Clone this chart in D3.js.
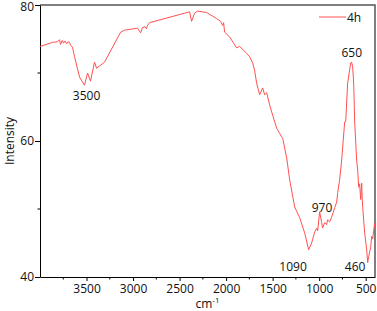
<!DOCTYPE html>
<html>
<head>
<meta charset="utf-8">
<script src="https://cdn.jsdelivr.net/npm/d3@7"></script>
<style>
    body { margin: 0; background: #fff; }
    text { font-family: "Open Sans", sans-serif; fill: #111; }
</style>
</head>
<body>
<div id="chart"></div>
<script>

// spectrum (wavenumber in cm-1, intensity)
const wavenumbers = [4000, 3866, 3812, 3790, 3780, 3760, 3747, 3730, 3715, 3700, 3683, 3672, 3651, 3629, 3575, 3522, 3489, 3457, 3414, 3392,
    3306, 3134, 3091, 2952, 2919, 2898, 2870, 2855, 2844, 2823, 2392, 2371, 2339, 2306, 2210, 2102, 2059, 2037, 2027, 2016,
    1962, 1887, 1855, 1780, 1747, 1715, 1694, 1672, 1640, 1607, 1586, 1564, 1532, 1500, 1457, 1403, 1392, 1349, 1317, 1263,
    1209, 1156, 1113, 1081, 1048, 1027, 1016, 995, 973, 963, 941, 920, 909, 887, 866, 833, 812, 801, 780, 758,
    726, 715, 694, 661, 651, 640, 629, 618, 597, 586, 575, 565, 554, 543, 538, 532, 511, 489, 479, 468,
    446, 436, 425, 403];
const intensity = [73.9, 74.5, 74.6, 74.9, 74.2, 74.8, 74.4, 74.7, 74.3, 74.6, 74.5, 74.1, 73.8, 72.4, 69.4, 68.2, 70.0, 68.8, 71.6, 70.7,
    71.6, 76.0, 76.3, 76.6, 75.9, 76.7, 76.8, 76.5, 77.0, 77.4, 79.0, 77.6, 78.8, 79.1, 78.9, 78.0, 77.6, 77.0, 77.4, 76.0,
    75.3, 73.7, 73.9, 72.9, 72.4, 71.5, 70.4, 68.5, 66.8, 67.8, 66.8, 67.1, 65.3, 63.8, 61.9, 60.6, 60.4, 57.5, 54.3, 50.3,
    48.7, 46.5, 44.0, 45.0, 46.6, 47.2, 46.8, 49.6, 48.0, 47.2, 48.0, 47.7, 48.4, 48.1, 48.8, 50.2, 51.0, 52.4, 54.3, 57.2,
    62.8, 62.8, 68.5, 71.5, 71.6, 70.9, 68.5, 62.7, 57.2, 55.7, 53.2, 53.7, 51.4, 53.8, 51.6, 50.2, 46.5, 44.0, 42.1, 43.0,
    44.4, 46.0, 45.6, 48.0];

// peak labels
const peakLabels = ["3500", "1090", "970", "650", "460"];
const peakX = [3500, 1090, 970, 650, 460];
const peakY = [66.0, 40.9, 49.6, 72.4, 40.9];
const peakAnchor = ["middle", "end", "middle", "middle", "end"];

const xTicks = [3500, 3000, 2500, 2000, 1500, 1000, 500];
const yTicks = [40, 60, 80];
const seriesName = "4h";

const width = 377, height = 311;
const margin = {top: 5, right: 2, bottom: 34, left: 40};

const svg = d3.select("#chart").append("svg")
    .attr("width", width)
    .attr("height", height);

const x = d3.scaleLinear().domain([4000, 400]).range([margin.left, width - margin.right]);
const y = d3.scaleLinear().domain([40, 80]).range([height - margin.bottom, margin.top]);

const data = wavenumbers.map((w, i) => ({w: w, v: intensity[i]}));
const lineColor = "#ff5050";

// frame on top and right
svg.append("path")
    .attr("d", `M${x.range()[0]},${y(80)}H${x.range()[1]}V${y(40)}`)
    .attr("fill", "none")
    .attr("stroke", "#555")
    .attr("stroke-width", 1.5);

// minor ticks
const xMinor = d3.range(3750, 400, -500);
svg.append("g")
    .selectAll("line")
    .data(xMinor)
    .join("line")
    .attr("x1", d => x(d)).attr("x2", d => x(d))
    .attr("y1", y(40)).attr("y2", y(40) + 2.5)
    .attr("stroke", "#000");

svg.append("g")
    .selectAll("line")
    .data([50, 70])
    .join("line")
    .attr("x1", x(4000) - 2.5).attr("x2", x(4000))
    .attr("y1", d => y(d)).attr("y2", d => y(d))
    .attr("stroke", "#000");

// axes
const xAxis = svg.append("g")
    .attr("transform", `translate(0,${y(40)})`)
    .call(d3.axisBottom(x).tickValues(xTicks).tickFormat(d3.format("d")).tickSize(4).tickSizeOuter(0));

const yAxis = svg.append("g")
    .attr("transform", `translate(${x(4000)},0)`)
    .call(d3.axisLeft(y).tickValues(yTicks).tickFormat(d3.format("d")).tickSize(5).tickSizeOuter(0));

[xAxis, yAxis].forEach(a => {
    a.select(".domain").attr("stroke", "#000");
    a.selectAll("text").attr("font-size", "12px").attr("font-family", "Open Sans, sans-serif").attr("fill", "#111");
});
xAxis.selectAll("text").attr("dy", "0.71em").attr("y", 7);
yAxis.selectAll("text").attr("x", -6);
yAxis.selectAll(".tick").filter(d => d === 80).select("text").attr("dy", "0.45em");

// spectrum line
svg.append("path")
    .datum(data)
    .attr("fill", "none")
    .attr("stroke", lineColor)
    .attr("stroke-width", 1)
    .attr("d", d3.line().x(d => x(d.w)).y(d => y(d.v)));

// peak labels
svg.append("g")
    .selectAll("text")
    .data(peakLabels)
    .join("text")
    .attr("x", (d, i) => x(peakX[i]) + (peakAnchor[i] === "end" ? -4 : 0))
    .attr("y", (d, i) => y(peakY[i]))
    .attr("text-anchor", (d, i) => peakAnchor[i])
    .attr("font-size", "12px")
    .text(d => d);

// axis titles
svg.append("text")
    .attr("transform", `translate(14,${(y(40) + y(80)) / 2}) rotate(-90)`)
    .attr("text-anchor", "middle")
    .attr("font-size", "12px")
    .text("Intensity");

const xt = svg.append("text")
    .attr("x", (x.range()[0] + x.range()[1]) / 2)
    .attr("y", 308)
    .attr("text-anchor", "middle")
    .attr("font-size", "12px");
xt.append("tspan").text("cm");
xt.append("tspan").attr("font-size", "8px").attr("dy", "-5").text("-1");

// legend
svg.append("line")
    .attr("x1", 319).attr("x2", 346)
    .attr("y1", 17).attr("y2", 17)
    .attr("stroke", lineColor)
    .attr("stroke-width", 1);
svg.append("text")
    .attr("x", 347)
    .attr("y", 21.5)
    .attr("font-size", "12px")
    .text(seriesName);

</script>
</body>
</html>
